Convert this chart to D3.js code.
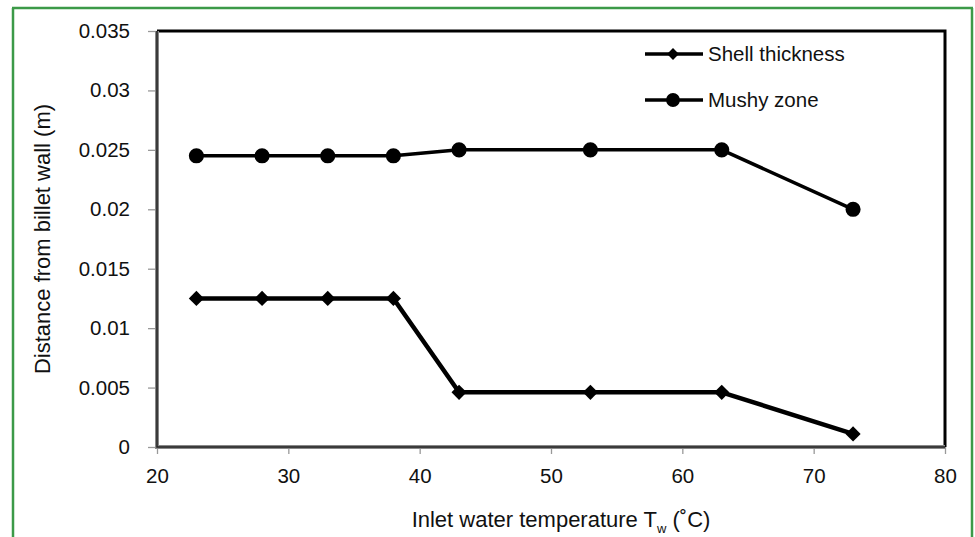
<!DOCTYPE html>
<html><head><meta charset="utf-8">
<script src="https://cdn.jsdelivr.net/npm/d3@7"></script>
<style>body{margin:0;background:#fff}svg{display:block;font-family:"Liberation Sans",Arial,sans-serif}</style>
</head><body><svg id="c" width="975" height="537"></svg>
<script>
const temps = [23, 28, 33, 38, 43, 53, 63, 73];
const shellThickness = [0.0125, 0.0125, 0.0125, 0.0125, 0.0046, 0.0046, 0.0046, 0.0011];
const mushyZone = [0.0245, 0.0245, 0.0245, 0.0245, 0.025, 0.025, 0.025, 0.02];
const xTicks = [20, 30, 40, 50, 60, 70, 80];
const yTicks = [0, 0.005, 0.01, 0.015, 0.02, 0.025, 0.03, 0.035];
const seriesNames = ["Shell thickness", "Mushy zone"];

const svg = d3.select("#c");
const L = 157, R = 945, T = 31, B = 447;
const FS = 20.5, TFS = 22;
const x = d3.scaleLinear().domain([20, 80]).range([L, R]);
const y = d3.scaleLinear().domain([0, 0.035]).range([B, T]);

// green frame
svg.append("line").attr("x1",13).attr("x2",13).attr("y1",8).attr("y2",537).attr("stroke","#3c9a48").attr("stroke-width",2.5);
svg.append("line").attr("x1",12).attr("x2",973).attr("y1",8).attr("y2",8).attr("stroke","#3c9a48").attr("stroke-width",2.5);
svg.append("line").attr("x1",972).attr("x2",972).attr("y1",8).attr("y2",537).attr("stroke","#3c9a48").attr("stroke-width",2.5);

// axes
const yAxis = svg.append("g").attr("transform",`translate(${L},0)`)
  .call(d3.axisLeft(y).tickValues(yTicks).tickFormat(d => String(+d.toFixed(3))).tickSize(9).tickPadding(18));
yAxis.select(".domain").remove();
yAxis.selectAll(".tick line").attr("stroke","#999").attr("stroke-width",1.3);
yAxis.selectAll(".tick text").attr("font-size",FS).attr("fill","#111").attr("font-family","Liberation Sans, Arial, sans-serif");

const xAxis = svg.append("g").attr("transform",`translate(0,${B})`)
  .call(d3.axisBottom(x).tickValues(xTicks).tickFormat(d3.format("d")).tickSize(7).tickPadding(14));
xAxis.select(".domain").remove();
xAxis.selectAll(".tick line").attr("stroke","#999").attr("stroke-width",1.3);
xAxis.selectAll(".tick text").attr("font-size",FS).attr("fill","#111").attr("font-family","Liberation Sans, Arial, sans-serif");

// frame
svg.append("path").attr("d",`M${L},${T}H${R}V${B}`).attr("fill","none").attr("stroke","#000").attr("stroke-width",3);
svg.append("path").attr("d",`M${L},${T}V${B}H${R}`).attr("fill","none").attr("stroke","#888").attr("stroke-width",4);
svg.append("path").attr("d",`M${L},${T}V${B}H${R}`).attr("fill","none").attr("stroke","#222").attr("stroke-width",1.5);

const line = d3.line().x(d => x(d[0])).y(d => y(d[1]));
const shell = temps.map((t,i)=>[t, shellThickness[i]]);
const mushy = temps.map((t,i)=>[t, mushyZone[i]]);

svg.append("path").datum(shell).attr("d",line).attr("fill","none").attr("stroke","#000").attr("stroke-width",4.5).attr("stroke-linejoin","round");
svg.append("path").datum(mushy).attr("d",line).attr("fill","none").attr("stroke","#000").attr("stroke-width",3.5).attr("stroke-linejoin","round");

const dia = d3.symbol().type(d3.symbolSquare).size(115);
const circle = d3.symbol().type(d3.symbolCircle).size(180);
svg.append("g").selectAll("path").data(shell).join("path")
  .attr("d", dia()).attr("transform", d => `translate(${x(d[0])},${y(d[1])}) rotate(45)`).attr("fill","#000");
svg.append("g").selectAll("path").data(mushy).join("path")
  .attr("d", circle()).attr("transform", d => `translate(${x(d[0])},${y(d[1])})`).attr("fill","#000");

// legend
const lg = svg.append("g");
[[54, "d"], [100, "c"]].forEach(([ly, t], i) => {
  lg.append("line").attr("x1",645).attr("x2",703).attr("y1",ly).attr("y2",ly).attr("stroke","#000").attr("stroke-width",3.5);
  if (t === "d") lg.append("path").attr("d", d3.symbol().type(d3.symbolSquare).size(70)()).attr("transform",`translate(673,${ly}) rotate(45)`);
  else lg.append("path").attr("d", d3.symbol().type(d3.symbolCircle).size(150)()).attr("transform",`translate(673,${ly})`);
  lg.append("text").attr("x",708).attr("y",ly+7).attr("font-size",FS).attr("fill","#111").text(seriesNames[i]);
});

// axis titles
svg.append("text").attr("transform","translate(50,239) rotate(-90)").attr("text-anchor","middle")
  .attr("font-size",TFS).attr("fill","#111").text("Distance from billet wall (m)");
const xt = svg.append("text").attr("x",561).attr("y",527).attr("text-anchor","middle").attr("font-size",TFS).attr("fill","#111");
xt.append("tspan").text("Inlet water temperature T");
xt.append("tspan").attr("dy",6).attr("font-size",13).text("w");
xt.append("tspan").attr("dy",-6).text(" (˚C)");
</script></body></html>
